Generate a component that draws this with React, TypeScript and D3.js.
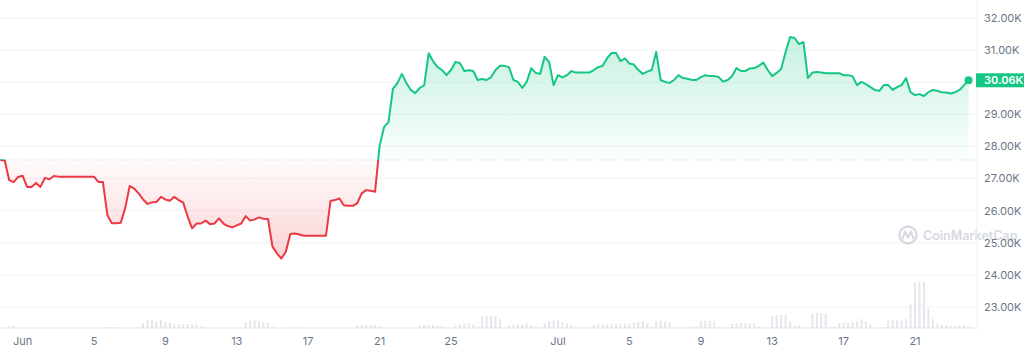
import { useMemo } from "react";
import * as d3 from "d3";

// 6-hourly samples starting May 30, 18:00
const seriesStart = new Date(2023, 4, 30, 18);
const stepHours = 6;

const prices = [
  27580, 27560, 26950, 26890, 27050, 27090, 26740, 26740, 26860, 26740,
  27020, 26980, 27080, 27060, 27060, 27060, 27060, 27060, 27060, 27060,
  27060, 27060, 26890, 26890, 25860, 25610, 25610, 25620, 26080, 26770,
  26690, 26540, 26350, 26210, 26260, 26270, 26430, 26350, 26310, 26430,
  26330, 26250, 25810, 25450, 25600, 25600, 25690, 25580, 25600, 25760,
  25600, 25520, 25480, 25540, 25600, 25830, 25690, 25730, 25790, 25750,
  25740, 24880, 24670, 24510, 24720, 25270, 25290, 25260, 25220, 25220,
  25220, 25220, 25220, 25220, 26300, 26330, 26380, 26170, 26150, 26150,
  26230, 26540, 26640, 26620, 26590, 28010, 28600, 28760, 29790, 29970,
  30260, 29980, 29760, 29660, 29820, 29900, 30900, 30650, 30470, 30380,
  30220, 30380, 30630, 30600, 30350, 30370, 30350, 30070, 30100, 30070,
  30160, 30380, 30510, 30510, 30470, 30070, 30010, 29820, 30020, 30440,
  30290, 30260, 30790, 30630, 29910, 30220, 30150, 30220, 30350, 30300,
  30300, 30300, 30300, 30380, 30470, 30510, 30750, 30910, 30910, 30660,
  30740, 30580, 30550, 30380, 30260, 30330, 30380, 30940, 30070, 30010,
  29980, 30070, 30220, 30130, 30110, 30070, 30070, 30160, 30220, 30190,
  30190, 30160, 30020, 30070, 30190, 30440, 30350, 30350, 30430, 30440,
  30510, 30610, 30380, 30190, 30290, 30410, 30940, 31410, 31380, 31190,
  31250, 30130, 30300, 30320, 30300, 30280, 30280, 30280, 30280, 30220,
  30220, 30190, 29910, 30010, 29940, 29850, 29760, 29730, 29910, 29910,
  29760, 29850, 29910, 30130, 29690, 29600, 29630, 29570, 29690, 29760,
  29730, 29690, 29680, 29650, 29690, 29760, 29910, 30060,
];

// volume, billions USD, same 6h grid
const volumes = [
  0, 0, 0.7, 0.7, 0, 0, 0, 0, 0, 0,
  0, 0, 0, 0, 0, 0, 0, 0, 0, 0,
  0, 0, 0, 0, 0.3, 0.3, 0.3, 0, 0, 0,
  0, 0, 1.5, 2.5, 2.7, 2.3, 2.7, 2.0, 1.8, 1.3,
  1.3, 1.2, 1.3, 1.3, 1.2, 0.5, 0, 0, 0, 0,
  0, 0, 0, 0, 0, 2.0, 2.5, 2.5, 2.3, 2.0,
  1.8, 0.5, 0, 0, 0, 0, 0.3, 0.3, 0, 0,
  0, 0, 0, 0, 0, 0, 0, 0, 0, 0,
  0.8, 1.0, 1.0, 1.0, 1.0, 0.5, 0, 0, 0, 0,
  0, 0, 0, 0, 0.8, 1.0, 1.0, 1.0, 0.8, 0.5,
  0, 0, 0.6, 1.2, 1.5, 1.5, 1.2, 0.5, 4.0, 4.0,
  4.2, 4.0, 3.0, 0, 0.8, 1.2, 1.3, 1.2, 1.5, 1.0,
  0.3, 0, 1.5, 2.3, 2.5, 2.7, 2.0, 1.5, 1.2, 0.5,
  0, 0, 0.3, 1.0, 1.3, 1.3, 1.2, 1.5, 1.3, 1.5,
  1.3, 1.5, 1.8, 2.0, 2.3, 1.5, 0.5, 2.2, 2.5, 2.3,
  2.0, 0.3, 0, 0, 0.3, 0.5, 0.5, 2.3, 2.3, 2.3,
  2.2, 0.3, 0, 0.3, 1.3, 1.5, 1.7, 1.7, 1.5, 1.3,
  0.5, 0, 0.3, 4.0, 4.3, 4.3, 4.3, 2.0, 0.8, 0.8,
  0, 0.3, 4.8, 5.0, 5.0, 4.8, 0.3, 0.3, 1.5, 1.8,
  1.7, 2.0, 2.3, 3.0, 2.0, 1.3, 0, 0, 0.3, 2.5,
  2.7, 2.7, 2.5, 3.0, 8.0, 15.0, 15.3, 15.5, 6.5, 3.0,
  1.5, 1.0, 0.8, 0.8, 0.8, 1.0, 0.8, 0.5,
];

const priceTicks = [23000, 24000, 25000, 26000, 27000, 28000, 29000, 30000, 31000, 32000];
const dateTicks = [
  new Date(2023, 5, 1), new Date(2023, 5, 5), new Date(2023, 5, 9), new Date(2023, 5, 13),
  new Date(2023, 5, 17), new Date(2023, 5, 21), new Date(2023, 5, 25), new Date(2023, 6, 1),
  new Date(2023, 6, 5), new Date(2023, 6, 9), new Date(2023, 6, 13), new Date(2023, 6, 17),
  new Date(2023, 6, 21),
];
const dateLabels = ["Jun", "5", "9", "13", "17", "21", "25", "Jul", "5", "9", "13", "17", "21"];

const W = 1024;
const H = 351;
const plotRight = 977;
const plotBottom = 328;
const GREEN = "#16c784";
const RED = "#ea3943";
const FONT = "Inter, 'Noto Sans', sans-serif";

export default function App() {
  const data = useMemo(
    () =>
      prices.map((p, i) => ({
        date: new Date(seriesStart.getTime() + i * stepHours * 3600 * 1000),
        price: p,
        volume: volumes[i] ?? 0,
      })),
    []
  );

  const x = d3
    .scaleTime()
    .domain([new Date(2023, 5, 1), new Date(2023, 6, 21)])
    .range([22.6, 915]);
  const y = d3.scaleLinear().domain([23000, 32000]).range([307, 18]);
  const v = d3.scaleLinear().domain([0, 16]).range([plotBottom, plotBottom - 48]);

  const base = prices[0];
  const yBase = y(base);
  const yMax = y(d3.max(prices) as number);
  const yMin = y(d3.min(prices) as number);

  const line = d3
    .line<any>()
    .x((d) => x(d.date))
    .y((d) => y(d.price));
  const area = d3
    .area<any>()
    .x((d) => x(d.date))
    .y0(yBase)
    .y1((d) => y(d.price));

  const last = data[data.length - 1];
  const lastX = x(last.date);
  const lastY = y(last.price);
  const fmt = (n: number) => `${(n / 1000).toFixed(2)}K`;

  return (
    <svg
      width={W}
      height={H}
      style={{ position: "absolute", left: 0, top: 0, background: "#fff" }}
      fontFamily={FONT}
    >
      <defs>
        <clipPath id="above">
          <rect x={0} y={0} width={plotRight} height={yBase} />
        </clipPath>
        <clipPath id="below">
          <rect x={0} y={yBase} width={plotRight} height={plotBottom - yBase} />
        </clipPath>
        <linearGradient id="gGreen" gradientUnits="userSpaceOnUse" x1={0} y1={yMax} x2={0} y2={yBase}>
          <stop offset="0" stopColor={GREEN} stopOpacity={0.24} />
          <stop offset="1" stopColor={GREEN} stopOpacity={0.02} />
        </linearGradient>
        <linearGradient id="gRed" gradientUnits="userSpaceOnUse" x1={0} y1={yBase} x2={0} y2={yMin}>
          <stop offset="0" stopColor={RED} stopOpacity={0.02} />
          <stop offset="1" stopColor={RED} stopOpacity={0.22} />
        </linearGradient>
      </defs>

      {/* grid */}
      {priceTicks.map((t) => (
        <line key={t} x1={0} x2={plotRight} y1={y(t)} y2={y(t)} stroke="#f3f4f6" strokeWidth={1} />
      ))}

      {/* volume */}
      {data.map((d, i) =>
        d.volume > 0 ? (
          <rect
            key={i}
            x={x(d.date) - 1}
            y={v(d.volume)}
            width={2}
            height={plotBottom - v(d.volume)}
            fill="#e4e7ec"
          />
        ) : null
      )}

      {/* watermark */}
      <g opacity={0.9}>
        <circle cx={908} cy={235} r={8.5} fill="none" stroke="#d3d6de" strokeWidth={2.4} />
        <path d="M902.5,239 L905,231.5 L908,237.5 L911,231.5 L913.5,239" fill="none" stroke="#d3d6de" strokeWidth={2} strokeLinejoin="round" />
        <text x={923} y={240} fontSize={12.5} fontWeight={600} fill="#d3d6de">
          CoinMarketCap
        </text>
      </g>

      {/* areas */}
      <path d={area(data) ?? ""} fill="url(#gGreen)" clipPath="url(#above)" />
      <path d={area(data) ?? ""} fill="url(#gRed)" clipPath="url(#below)" />

      {/* baseline */}
      <line x1={0} x2={plotRight} y1={yBase} y2={yBase} stroke="#cfd3da" strokeDasharray="1,2" />

      {/* price line */}
      <path d={line(data) ?? ""} fill="none" stroke={GREEN} strokeWidth={2} strokeLinejoin="round" clipPath="url(#above)" />
      <path d={line(data) ?? ""} fill="none" stroke={RED} strokeWidth={2} strokeLinejoin="round" clipPath="url(#below)" />
      <circle cx={lastX} cy={lastY} r={4} fill={GREEN} />

      {/* frame */}
      <line x1={plotRight} x2={plotRight} y1={0} y2={plotBottom} stroke="#eff1f4" />
      <line x1={0} x2={plotRight} y1={plotBottom} y2={plotBottom} stroke="#dfe2e7" />

      {/* y axis labels */}
      {priceTicks.map((t) => (
        <text key={t} x={984} y={y(t)} dy="0.35em" fontSize={11} fill="#6b7588">
          {fmt(t)}
        </text>
      ))}
      <rect x={976} y={lastY - 7} width={48} height={14} fill={GREEN} />
      <text x={984} y={lastY} dy="0.36em" fontSize={11} fontWeight={600} fill="#fff">
        {fmt(last.price)}
      </text>

      {/* x axis labels */}
      {dateTicks.map((t, i) => (
        <text key={i} x={x(t)} y={341} dy="0.35em" textAnchor="middle" fontSize={11} fill="#6b7588">
          {dateLabels[i]}
        </text>
      ))}
    </svg>
  );
}
